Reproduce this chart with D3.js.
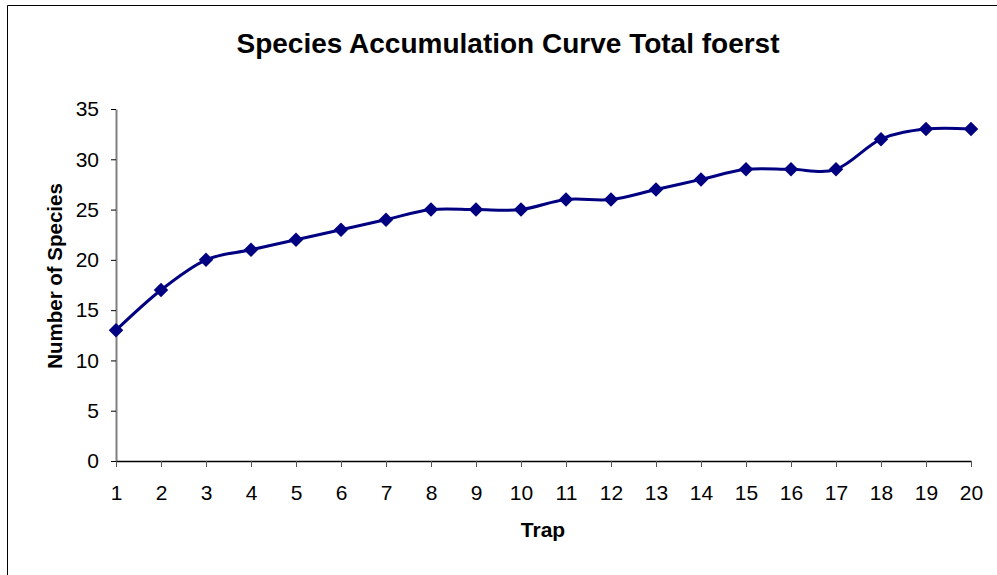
<!DOCTYPE html>
<html><head><meta charset="utf-8">
<script src="https://cdn.jsdelivr.net/npm/d3@7"></script>
<style>body{margin:0;background:#fff}svg{display:block;font-family:Arial,"Liberation Sans",sans-serif}</style>
</head><body>
<script>
const traps = [1,2,3,4,5,6,7,8,9,10,11,12,13,14,15,16,17,18,19,20];
const species = [13,17,20,21,22,23,24,25,25,25,26,26,27,28,29,29,29,32,33,33];
const yTicks = [0,5,10,15,20,25,30,35];
const title = "Species Accumulation Curve Total foerst";
const xTitle = "Trap";
const yTitle = "Number of Species";

const W = 997, H = 575;
const FF = "Arial, 'Liberation Sans', sans-serif";
const svg = d3.select("body").append("svg").attr("width", W).attr("height", H);
svg.append("rect").attr("width", W).attr("height", H).attr("fill", "#fff");
svg.append("path").attr("d", `M7.5,${H}V5.5H${W}`).attr("fill","none").attr("stroke","#000").attr("stroke-width",1);

const x = d3.scaleLinear().domain([1,20]).range([116, 971]);
const y = d3.scaleLinear().domain([0,35]).range([461, 109]);

const yAxis = svg.append("g").attr("transform","translate(116,0)")
  .call(d3.axisLeft(y).tickValues(yTicks).tickSize(5).tickSizeOuter(0).tickPadding(12));
yAxis.select(".domain").attr("stroke","#808080").attr("stroke-width",2);
yAxis.selectAll(".tick line").attr("stroke","#000");
yAxis.selectAll("text").style("font-size","21px").style("font-family",FF).attr("fill","#000");

const xAxis = svg.append("g").attr("transform","translate(0,461)")
  .call(d3.axisBottom(x).tickValues(traps).tickFormat(d3.format("d")).tickSize(6).tickSizeOuter(0).tickPadding(18));
xAxis.select(".domain").attr("stroke","#000").attr("stroke-width",1.5);
xAxis.selectAll(".tick line").attr("stroke","#555");
xAxis.selectAll("text").style("font-size","21px").style("font-family",FF).attr("fill","#000");

const data = traps.map((t,i)=>({t, v: species[i]}));
const line = d3.line().x(d=>x(d.t)).y(d=>y(d.v)).curve(d3.curveCatmullRom.alpha(0));
svg.append("path").datum(data).attr("d", line).attr("fill","none").attr("stroke","#000080").attr("stroke-width",3);

const sym = d3.symbol().type(d3.symbolDiamond2).size(134);
svg.append("g").selectAll("path").data(data).join("path")
  .attr("transform", d=>`translate(${x(d.t)},${y(d.v)})`)
  .attr("d", sym).attr("fill","#000080");

svg.append("text").attr("x",508).attr("y",53).attr("text-anchor","middle")
  .style("font-size","28px").style("font-family",FF).attr("font-weight","bold").text(title);
svg.append("text").attr("x",543).attr("y",537).attr("text-anchor","middle")
  .style("font-size","21px").style("font-family",FF).attr("font-weight","bold").text(xTitle);
svg.append("text").attr("transform","translate(62,276) rotate(-90)").attr("text-anchor","middle")
  .style("font-size","20.5px").style("font-family",FF).attr("font-weight","bold").text(yTitle);
</script>
</body></html>
